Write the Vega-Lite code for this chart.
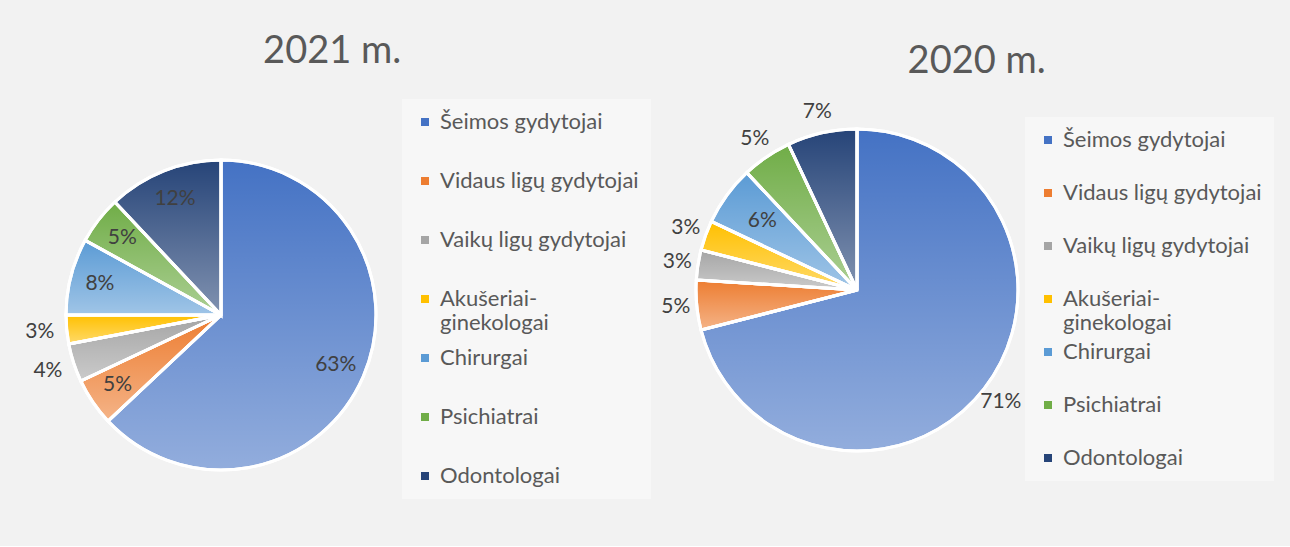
{
  "$schema": "https://vega.github.io/schema/vega-lite/v6.json",
  "background": "#f2f2f2",
  "padding": {"left": 25, "top": 33, "right": 19, "bottom": 45},
  "config": {
    "font": "Lato",
    "view": {"stroke": null},
    "legend": {
      "title": null,
      "orient": "none",
      "labelFont": "Lato",
      "labelFontSize": 22,
      "labelColor": "#595959",
      "symbolType": "square",
      "symbolSize": 64,
      "symbolStrokeWidth": 0,
      "gridAlign": "all",
      "fillColor": "#f7f7f7",
      "padding": 12,
      "labelLimit": 300
    },
    "title": {"font": "Lato", "fontSize": 38, "fontWeight": "normal", "color": "#595959", "frame": "bounds", "anchor": "middle"}
  },
  "datasets": {
    "y2021": [
      {"nr": 1, "kat": "Šeimos gydytojai", "dalis": 0.63},
      {"nr": 2, "kat": "Vidaus ligų gydytojai", "dalis": 0.05},
      {"nr": 3, "kat": "Vaikų ligų gydytojai", "dalis": 0.04},
      {"nr": 4, "kat": "Akušeriai-ginekologai", "dalis": 0.03},
      {"nr": 5, "kat": "Chirurgai", "dalis": 0.08},
      {"nr": 6, "kat": "Psichiatrai", "dalis": 0.05},
      {"nr": 7, "kat": "Odontologai", "dalis": 0.12}
    ],
    "y2020": [
      {"nr": 1, "kat": "Šeimos gydytojai", "dalis": 0.71},
      {"nr": 2, "kat": "Vidaus ligų gydytojai", "dalis": 0.05},
      {"nr": 3, "kat": "Vaikų ligų gydytojai", "dalis": 0.03},
      {"nr": 4, "kat": "Akušeriai-ginekologai", "dalis": 0.03},
      {"nr": 5, "kat": "Chirurgai", "dalis": 0.06},
      {"nr": 6, "kat": "Psichiatrai", "dalis": 0.05},
      {"nr": 7, "kat": "Odontologai", "dalis": 0.07}
    ]
  },
  "hconcat": [
    {
      "title": {"text": "2021 m.", "offset": 28, "dx": -6},
      "width": 310,
      "height": 372,
      "data": {"name": "y2021"},
      "encoding": {
        "theta": {"field": "dalis", "type": "quantitative", "stack": true},
        "order": {"field": "nr", "type": "quantitative"}
      },
      "layer": [
        {
          "mark": {"type": "arc", "stroke": "white", "strokeWidth": 3},
          "encoding": {
            "color": {
              "field": "kat",
              "type": "nominal",
              "sort": ["Šeimos gydytojai", "Vidaus ligų gydytojai", "Vaikų ligų gydytojai", "Akušeriai-ginekologai", "Chirurgai", "Psichiatrai", "Odontologai"],
              "scale": {
                "domain": ["Šeimos gydytojai", "Vidaus ligų gydytojai", "Vaikų ligų gydytojai", "Akušeriai-ginekologai", "Chirurgai", "Psichiatrai", "Odontologai"],
                "range": ["#4472C4", "#ED7D31", "#A5A5A5", "#FFC000", "#5B9BD5", "#70AD47", "#264478"]
              },
              "legend": {
                "legendX": 336,
                "legendY": -30,
                "rowPadding": 13,
                "labelExpr": "datum.label == 'Akušeriai-ginekologai' ? ['Akušeriai-', 'ginekologai'] : datum.label"
              }
            }
          }
        },
        {
          "mark": {"type": "arc", "stroke": "white", "strokeWidth": 3, "fill": {"gradient": "linear", "x1": 0, "y1": 0, "x2": 0, "y2": 1, "stops": [{"offset": 0, "color": "rgba(255,255,255,0)"}, {"offset": 1, "color": "rgba(255,255,255,0.42)"}]}}
        },
        {
          "mark": {"type": "text", "radius": 125, "fontSize": 21, "color": "#404040"},
          "encoding": {
            "text": {"condition": {"test": "datum.dalis >= 0.05", "field": "dalis", "type": "quantitative", "format": ".0%"}, "value": ""}
          }
        },
        {
          "mark": {"type": "text", "radius": 182, "fontSize": 21, "color": "#404040"},
          "encoding": {
            "text": {"condition": {"test": "datum.dalis < 0.05", "field": "dalis", "type": "quantitative", "format": ".0%"}, "value": ""}
          }
        }
      ]
    },
    {
      "title": {"text": "2020 m.", "offset": 20, "dx": 9},
      "width": 322,
      "height": 322,
      "data": {"name": "y2020"},
      "encoding": {
        "theta": {"field": "dalis", "type": "quantitative", "stack": true},
        "order": {"field": "nr", "type": "quantitative"}
      },
      "layer": [
        {
          "mark": {"type": "arc", "stroke": "white", "strokeWidth": 3},
          "encoding": {
            "color": {
              "field": "kat",
              "type": "nominal",
              "sort": ["Šeimos gydytojai", "Vidaus ligų gydytojai", "Vaikų ligų gydytojai", "Akušeriai-ginekologai", "Chirurgai", "Psichiatrai", "Odontologai"],
              "scale": {
                "domain": ["Šeimos gydytojai", "Vidaus ligų gydytojai", "Vaikų ligų gydytojai", "Akušeriai-ginekologai", "Chirurgai", "Psichiatrai", "Odontologai"],
                "range": ["#4472C4", "#ED7D31", "#A5A5A5", "#FFC000", "#5B9BD5", "#70AD47", "#264478"]
              },
              "legend": {
                "legendX": 329,
                "legendY": -12,
                "rowPadding": 7,
                "labelExpr": "datum.label == 'Akušeriai-ginekologai' ? ['Akušeriai-', 'ginekologai'] : datum.label"
              }
            }
          }
        },
        {
          "mark": {"type": "arc", "stroke": "white", "strokeWidth": 3, "fill": {"gradient": "linear", "x1": 0, "y1": 0, "x2": 0, "y2": 1, "stops": [{"offset": 0, "color": "rgba(255,255,255,0)"}, {"offset": 1, "color": "rgba(255,255,255,0.42)"}]}}
        },
        {
          "mark": {"type": "text", "radius": 117, "fontSize": 21, "color": "#404040"},
          "encoding": {
            "text": {"condition": {"test": "datum.kat == 'Chirurgai'", "field": "dalis", "type": "quantitative", "format": ".0%"}, "value": ""}
          }
        },
        {
          "mark": {"type": "text", "radius": 182, "fontSize": 21, "color": "#404040"},
          "encoding": {
            "text": {"condition": {"test": "datum.kat != 'Chirurgai'", "field": "dalis", "type": "quantitative", "format": ".0%"}, "value": ""}
          }
        }
      ]
    }
  ],
  "spacing": 10,
  "resolve": {"legend": {"color": "independent"}}
}
